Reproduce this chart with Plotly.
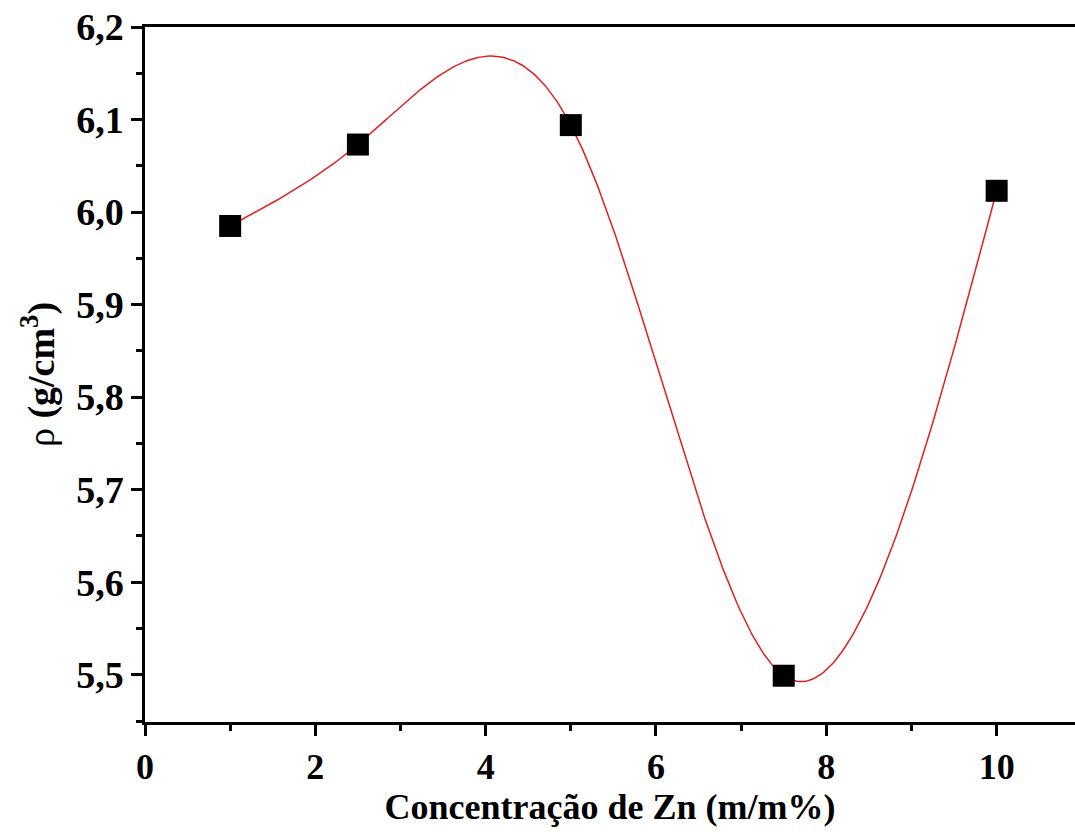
import numpy as np
import plotly.graph_objects as go

zn_conc = [1.0, 2.5, 5.0, 7.5, 10.0]
density = [5.985, 6.073, 6.094, 5.499, 6.023]
x_ticks = [0, 2, 4, 6, 8, 10]
y_ticks = [5.5, 5.6, 5.7, 5.8, 5.9, 6.0, 6.1, 6.2]


def natural_spline(xs, ys, n=400):
    xs = np.asarray(xs, float)
    ys = np.asarray(ys, float)
    k = len(xs)
    h = np.diff(xs)
    A = np.zeros((k, k))
    b = np.zeros(k)
    A[0, 0] = A[-1, -1] = 1.0
    for i in range(1, k - 1):
        A[i, i - 1] = h[i - 1]
        A[i, i] = 2 * (h[i - 1] + h[i])
        A[i, i + 1] = h[i]
        b[i] = 6 * ((ys[i + 1] - ys[i]) / h[i] - (ys[i] - ys[i - 1]) / h[i - 1])
    M = np.linalg.solve(A, b)
    xx = np.linspace(xs[0], xs[-1], n)
    yy = np.empty_like(xx)
    for j, x in enumerate(xx):
        i = min(np.searchsorted(xs, x, side="right") - 1, k - 2)
        hi = h[i]
        u = xs[i + 1] - x
        v = x - xs[i]
        yy[j] = (M[i] * u ** 3 / (6 * hi) + M[i + 1] * v ** 3 / (6 * hi)
                 + (ys[i] / hi - M[i] * hi / 6) * u
                 + (ys[i + 1] / hi - M[i + 1] * hi / 6) * v)
    return xx, yy


sx, sy = natural_spline(zn_conc, density)

font = dict(family="Liberation Serif, Times New Roman, serif", color="black")

fig = go.Figure()
fig.add_trace(go.Scatter(x=sx, y=sy, mode="lines",
                         line=dict(color="#e02020", width=1.5),
                         hoverinfo="skip", showlegend=False))
fig.add_trace(go.Scatter(x=zn_conc, y=density, mode="markers",
                         marker=dict(symbol="square", size=22, color="black",
                                     line=dict(width=0)),
                         showlegend=False))

fig.update_layout(
    width=1075, height=835,
    margin=dict(l=145, r=0, t=27, b=113),
    paper_bgcolor="white", plot_bgcolor="white",
    separators=", ",
    font=dict(size=36, **font),
)
fig.update_xaxes(
    range=[0, 10.92], tickvals=x_ticks,
    ticktext=["<b>%d</b>" % v for v in x_ticks],
    showgrid=False, zeroline=False,
    showline=True, linecolor="black", linewidth=2.5, mirror=True,
    ticks="outside", ticklen=11, tickwidth=2.5, tickcolor="black",
    minor=dict(tickvals=[1, 3, 5, 7, 9], ticks="outside", ticklen=6,
               tickwidth=2.5, tickcolor="black", showgrid=False),
    tickfont=dict(size=36, **font),
    title=dict(text="<b>Concentração de Zn (m/m%)</b>", font=dict(size=36, **font),
               standoff=2),
)
fig.update_yaxes(
    range=[5.449, 6.2], tickvals=y_ticks,
    ticktext=["<b>%s</b>" % ("%.1f" % v).replace(".", ",") for v in y_ticks],
    showgrid=False, zeroline=False,
    showline=True, linecolor="black", linewidth=2.5, mirror=False,
    ticks="outside", ticklen=11, tickwidth=2.5, tickcolor="black",
    minor=dict(tickvals=[5.45, 5.55, 5.65, 5.75, 5.85, 5.95, 6.05, 6.15],
               ticks="outside", ticklen=6, tickwidth=2.5, tickcolor="black",
               showgrid=False),
    tickfont=dict(size=38, **font),
    title=dict(text="ρ <b>(g/cm<sup>3</sup>)</b>", font=dict(size=38, **font),
               standoff=10),
)

fig.write_html("out.html")
